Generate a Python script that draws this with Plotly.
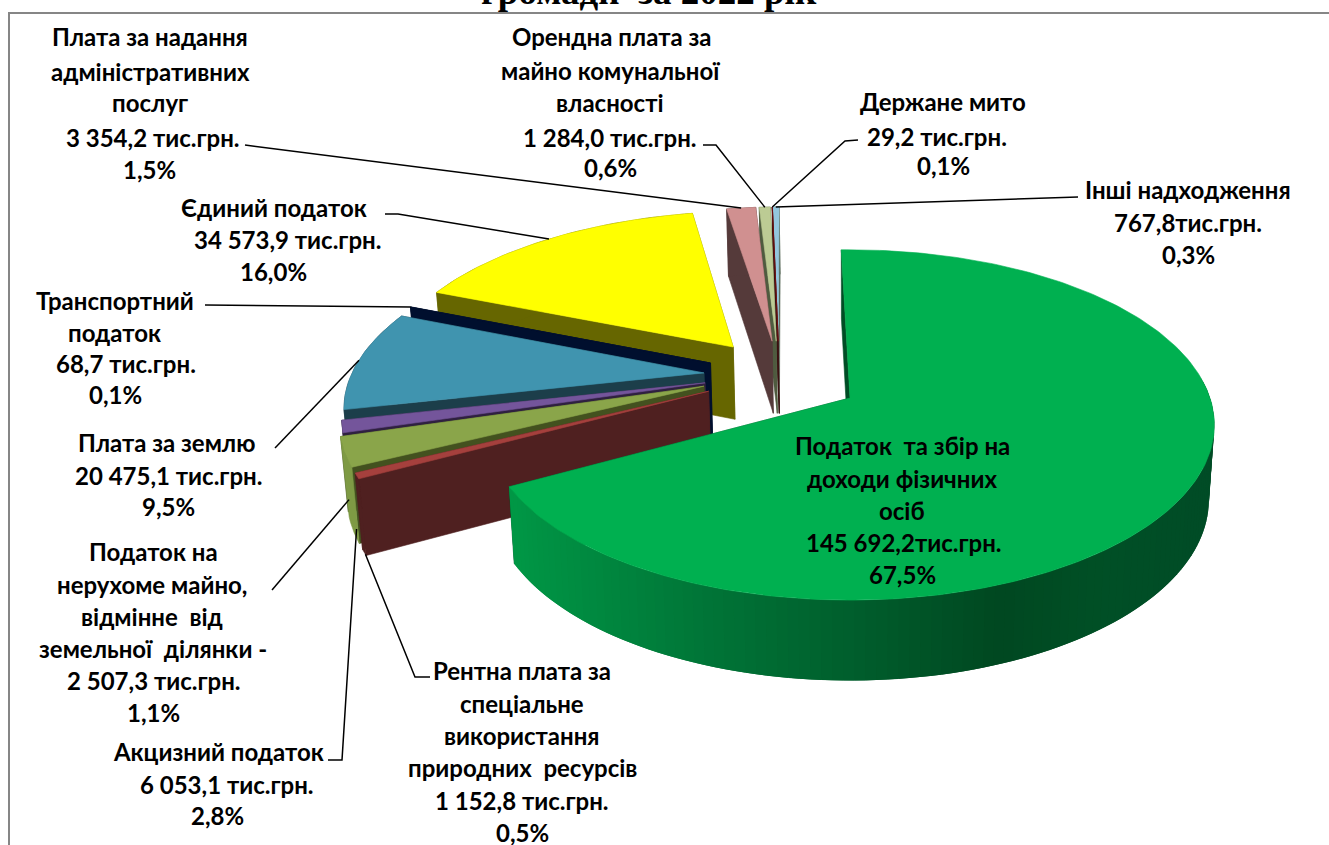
import numpy as np
import plotly.graph_objects as go

# ---------- data ----------
names = ["ПДФО", "Рентна плата", "Акцизний податок", "Податок на нерухоме майно", "Плата за землю",
         "Транспортний податок", "Єдиний податок", "Плата за адмін. послуги", "Орендна плата", "Держане мито", "Інші надходження"]
values = [145692.2, 1152.8, 6053.1, 2507.3, 20475.1, 68.7, 34573.9, 3354.2, 1284.0, 29.2, 767.8]

label_lines = [
    ["Податок  та збір на", "доходи фізичних", "осіб", "145 692,2тис.грн.", "67,5%"],
    ["Рентна плата за", "спеціальне", "використання", "природних  ресурсів", "1 152,8 тис.грн.", "0,5%"],
    ["Акцизний податок", "6 053,1 тис.грн.", "2,8%"],
    ["Податок на", "нерухоме майно,", "відмінне  від", "земельної  ділянки -", "2 507,3 тис.грн.", "1,1%"],
    ["Плата за землю", "20 475,1 тис.грн.", "9,5%"],
    ["Транспортний", "податок", "68,7 тис.грн.", "0,1%"],
    ["Єдиний податок", "34 573,9 тис.грн.", "16,0%"],
    ["Плата за надання", "адміністративних", "послуг", "3 354,2 тис.грн.", "1,5%"],
    ["Орендна плата за", "майно комунальної", "власності", "1 284,0 тис.грн.", "0,6%"],
    ["Держане мито", "29,2 тис.грн.", "0,1%"],
    ["Інші надходження", "767,8тис.грн.", "0,3%"],
]
title_text = "громади  за 2022 рік"

# ---------- styles / layout ----------
top_colors = ["#00B050", "#A5403D", "#8AA54A", "#74559B", "#4094AF", "#001030", "#FFFF00", "#D09090", "#BCCB94", "#7A1010", "#93C6DE"]
cut_colors = ["#004D25", "#4F2020", "#43511F", "#2F2040", "#1C3E4A", "#000F2E", "#666600", "#553A3A", "#4F5B3F", "#3A1010", "#5B6B5B"]
side_colors = [None, "#4F2020", "#7E9A44", "#2F2040", "#1C3E4A", "#000F2E", "#666600", "#553A3A", "#4F5B3F", "#3A1010", "#5B6B5B"]
# explosion offsets in the pie plane (fraction of radius)
offset_x = [0, -0.395, -0.41, -0.408, -0.415, -0.40, -0.34, -0.228, -0.216, -0.21, -0.21]
offset_y = [0, 0.04, 0.07, 0.09, 0.15, 0.211, 0.3126, 0.35, 0.35, 0.35, 0.35]
paint_order = [10, 9, 8, 7, 6, 5, 4, 3, 2, 1, 0]

CX, CY, RX, RY, K, START, DEPTH, BOTTOM_SCALE = 850, 398, 360, 171, 0.154, -1.6, 74, 0.985

# per-line label placement
label_x = [[902, 902, 902, 904, 902], [522] * 6, [218, 227, 217], [153, 152, 152, 153, 154, 153],
           [166, 168, 168], [115, 114, 126, 115], [274, 287, 273], [150, 150, 150, 153, 149],
           [611, 610, 610, 610, 610], [943, 937, 943], [1188, 1188, 1188]]
label_y = [[445, 478, 510, 542, 574], [670, 703, 735, 767, 800, 832], [751, 784, 815],
           [551, 584, 616, 648, 680, 712], [442, 475, 506], [300, 332, 363, 394], [207, 239, 271],
           [36, 71, 102, 137, 169], [36, 70, 102, 137, 167], [101, 136, 165], [189, 222, 254]]
# leaders: anchor slice, fraction across slice, fraction of depth, elbow points of the callout
leaders = [
    (1, 0.2, 1.0, [(430, 677), (415, 677)]),
    (2, 0.1, 0.85, [(328, 760), (342, 760)]),
    (2, 0.55, 0.65, [(272, 590)]),
    (4, 0.5, 0.0, [(275, 448)]),
    (5, 0.5, 0.0, [(205, 305)]),
    (6, 0.5, 0.0, [(385, 214), (398, 214)]),
    (7, 0.5, 0.0, [(245, 145)]),
    (8, 0.5, 0.0, [(703, 145), (716, 145)]),
    (9, 0.5, 0.0, [(858, 140), (845, 141)]),
    (10, 0.5, 0.0, [(1078, 197)]),
]
LABEL_FONT = dict(family="Lato, Carlito, 'Open Sans', sans-serif", size=24, color="black")


def project(theta_deg, radius, ox, oy, z=0.0):
    t = np.radians(np.asarray(theta_deg, dtype=float))
    x = radius * np.sin(t) + ox
    y = radius * np.cos(t) + oy
    w = 1 + K * y
    scale = 1 - (1 - BOTTOM_SCALE) * z
    sx = CX + RX * x / w * scale
    sy = CY - RY * y / w + z * DEPTH / np.sqrt(w)
    return sx, sy


total = sum(values)
edges = START + 360 * np.concatenate([[0], np.cumsum(values)]) / total

fig = go.Figure()


def poly(xs, ys, color, width=0.6):
    fig.add_trace(go.Scatter(x=list(xs) + [xs[0]], y=list(ys) + [ys[0]], mode="lines", fill="toself",
                             fillcolor=color, line=dict(color=color, width=width), hoverinfo="skip", showlegend=False))


def green_shade(px):
    stops = [510, 700, 850, 1000, 1100, 1215]
    g = np.interp(px, stops, [152, 118, 95, 72, 80, 76])
    b = np.interp(px, stops, [70, 56, 45, 33, 38, 38])
    return f"rgb(0,{int(g)},{int(b)})"


for i in paint_order:
    a0, a1 = edges[i], edges[i + 1]
    ox, oy = offset_x[i], offset_y[i]
    ax0, ay0 = project(0, 0, ox, oy)
    ax1, ay1 = project(0, 0, ox, oy, 1)
    # cut walls
    for ang in (a1, a0):
        x0, y0 = project(ang, 1, ox, oy)
        x1, y1 = project(ang, 1, ox, oy, 1)
        poly([ax0, x0, x1, ax1], [ay0, y0, y1, ay1], cut_colors[i])
    # outer wall, overlapping quads so no seams show
    n = max(2, int((a1 - a0) / 1.5))
    ang = np.linspace(a0, a1, n + 1)
    tx, ty = project(ang, 1, ox, oy)
    bx, by = project(ang, 1, ox, oy, 1)
    if side_colors[i] is None:
        for j in range(n):
            e = min(j + 2, n)
            if np.cos(np.radians(ang[j])) < 0.15:
                poly([tx[j], tx[e], bx[e], bx[j]], [ty[j], ty[e], by[e], by[j]],
                     green_shade((tx[j] + tx[j + 1]) / 2), width=0)
    else:
        poly(list(tx) + list(bx[::-1]), list(ty) + list(by[::-1]), side_colors[i])
    # top face
    fine = np.linspace(a0, a1, max(3, int((a1 - a0)) + 2))
    fx, fy = project(fine, 1, ox, oy)
    poly([ax0] + list(fx), [ay0] + list(fy), top_colors[i])

# leaders
for idx, frac, zf, pts in leaders:
    ang = edges[idx] + frac * (edges[idx + 1] - edges[idx])
    ex, ey = project(ang, 1, offset_x[idx], offset_y[idx], zf)
    fig.add_trace(go.Scatter(x=[p[0] for p in pts] + [float(ex)], y=[p[1] for p in pts] + [float(ey)], mode="lines",
                             line=dict(color="black", width=1.5), hoverinfo="skip", showlegend=False))

annotations = []
for lines, xs, ys in zip(label_lines, label_x, label_y):
    for text, x, y in zip(lines, xs, ys):
        annotations.append(dict(x=x, y=y, xref="x", yref="y", text=f"<b>{text.replace('  ', '&nbsp; ')}</b>",
                                showarrow=False, xanchor="center", yanchor="middle", font=LABEL_FONT))
annotations.append(dict(x=649, y=14, xref="x", yref="y", text=f"<b>{title_text.replace('  ', '&nbsp; ')}</b>", showarrow=False,
                        xanchor="center", yanchor="bottom",
                        font=dict(family="Liberation Serif, serif", size=37, color="black")))

fig.update_layout(
    width=1329, height=845, margin=dict(l=0, r=0, t=0, b=0),
    paper_bgcolor="white", plot_bgcolor="white", showlegend=False,
    xaxis=dict(range=[0, 1329], visible=False, fixedrange=True),
    yaxis=dict(range=[845, 0], visible=False, fixedrange=True),
    annotations=annotations,
    shapes=[dict(type="rect", xref="x", yref="y", x0=9, y0=13, x1=1345, y1=860,
                 line=dict(color="#868686", width=2), layer="below")],
)
fig.write_html("out.html", post_script="document.body.style.margin='0';", config={"displayModeBar": False})
